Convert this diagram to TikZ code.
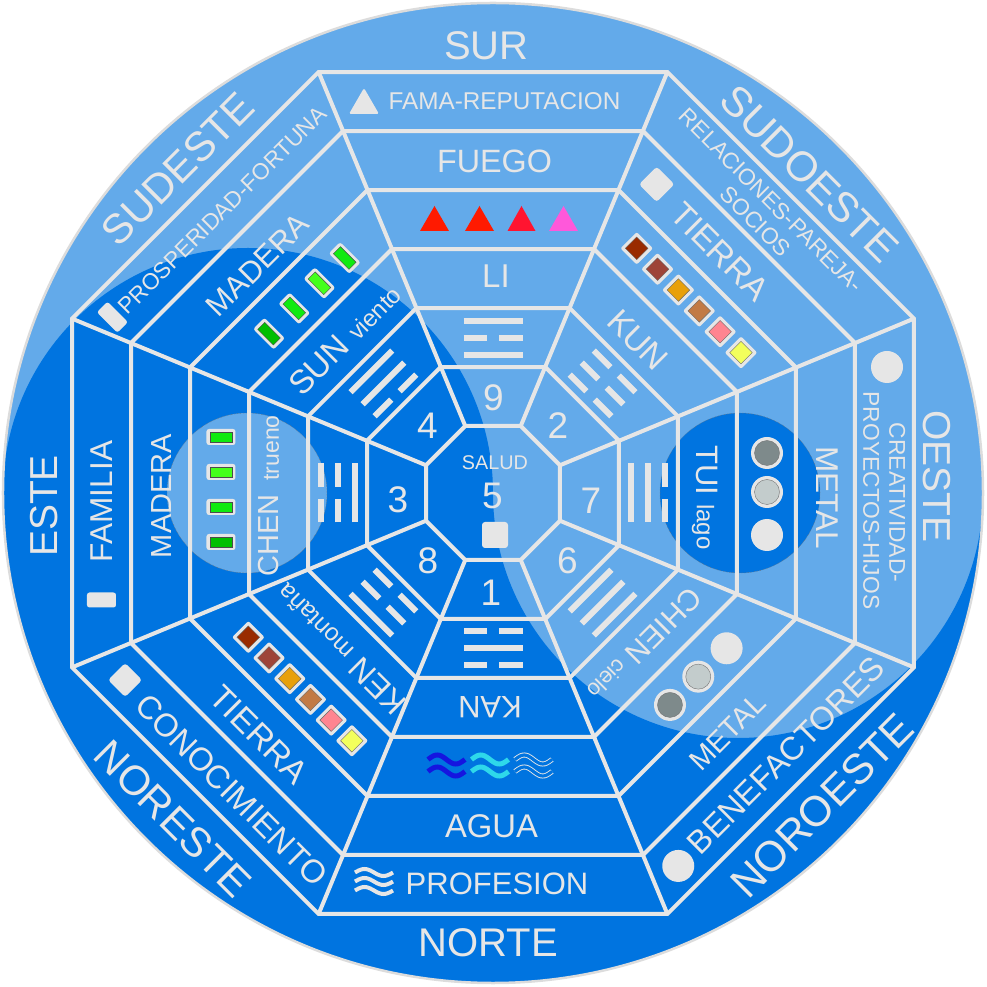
\documentclass[tikz,border=0pt]{standalone}
\usepackage{fontspec}
\setmainfont{Liberation Sans}
\definecolor{lb}{HTML}{63AAEA}
\definecolor{db}{HTML}{0074E0}
\definecolor{lg}{HTML}{E6E6E6}
\definecolor{rim}{HTML}{DCDCDC}
\definecolor{c1}{HTML}{992B00}
\definecolor{c2}{HTML}{9E4438}
\definecolor{c3}{HTML}{E8A00A}
\definecolor{c4}{HTML}{C27A44}
\definecolor{c5}{HTML}{FF8590}
\definecolor{c6}{HTML}{F3FF5C}
\definecolor{g1}{HTML}{00BF00}
\definecolor{g2}{HTML}{10EA10}
\definecolor{g3}{HTML}{44FF1A}
\definecolor{g4}{HTML}{10EA10}
\definecolor{m1}{HTML}{7E8A8B}
\definecolor{m2}{HTML}{C3CCCC}
\definecolor{r1}{HTML}{FF1A00}
\definecolor{r3}{HTML}{FF1430}
\definecolor{r4}{HTML}{FF58DA}
\definecolor{w1}{HTML}{1515E0}
\definecolor{w2}{HTML}{2ED8EA}
\newcommand{\tgl}[2]{\ifnum#1=1 \draw[trg] (-29.5,#2) -- (29.5,#2);\else\draw[trg] (-29.5,#2) -- (-6,#2) (6,#2) -- (29.5,#2);\fi}
\newcommand{\trig}[3]{\tgl{#1}{138}\tgl{#2}{155}\tgl{#3}{172}}
\newcommand{\esq}[3]{\node[ico, minimum size=23, rounded corners=2] at (#1,#2) {};\node[inner sep=0, fill=#3, draw=black!60, line width=0.4, minimum size=16] at (#1,#2) {};}
\newcommand{\mcirc}[3]{\node[ico, circle, minimum size=32] at (#1,#2) {};\node[circle, inner sep=0, fill=#3, draw=black!55, line width=0.4, minimum size=25] at (#1,#2) {};}
\newcommand{\grect}[3]{\node[ico, minimum width=16, minimum height=29, rounded corners=2.5] at (#1,#2) {};\node[inner sep=0, fill=#3, draw=black!70, line width=0.4, minimum width=10, minimum height=22] at (#1,#2) {};}
\newcommand{\wv}[4]{plot[smooth, domain=0:1, samples=21] ({#1+(\x-0.5)*#4},{#2+#3*sin(\x*360)})}
\begin{document}
\begin{tikzpicture}[x=1pt,y=1pt,
  gline/.style={draw=lg, line width=4},
  trg/.style={draw=lg, line width=6},
  tx/.style={text=lg, inner sep=0, outer sep=0, text depth=0pt, anchor=center},
  sz/.style={font=\fontsize{#1}{#1}\selectfont, text height={0.716*#1}},
  ico/.style={fill=lg, inner sep=0, outer sep=0, draw=none}]
\useasboundingbox (-493,-494) rectangle (494,493);
% yin-yang background
\fill[lb] (0,0) circle[radius=490];
\fill[db] (-490,0) arc[start angle=180,end angle=360,radius=490] arc[start angle=0,end angle=-180,radius=245] arc[start angle=0,end angle=180,radius=245] -- cycle;
\fill[lb] (-246,0) circle[radius=80];
\draw[black!55, line width=0.5, densely dotted] (-246,0) circle[radius=80];
\fill[db] (247,0) circle[radius=80];
\draw[black!55, line width=0.5, densely dotted] (247,0) circle[radius=80];
% ---------- centre
\node[tx, sz=19.8] (salud) at (2,31) {SALUD};
\node[tx, sz=37] (n5) at (-0.5,-2.5) {5};
\node[ico, minimum size=26, rounded corners=3] (sq5) at (2,-42) {};
% numbers
\node[tx, sz=37] (n9) at (0.5,95.5) {9};
\node[tx, sz=37] (n2) at (65,67.5) {2};
\node[tx, sz=37] (n7) at (98,-7) {7};
\node[tx, sz=37] (n6) at (74.5,-67) {6};
\node[tx, sz=37] (n1) at (-2,-99) {1};
\node[tx, sz=37] (n8) at (-65,-67) {8};
\node[tx, sz=37] (n3) at (-95,-6) {3};
\node[tx, sz=37] (n4) at (-65.5,67.5) {4};
% ---------- S
\node[tx, sz=40] (sur) at (-6.5,448) {SUR};
\node[tx, sz=24.3] (fama) at (11.5,392) {FAMA-REPUTACION};
\fill[lg, rounded corners=1.5] (-144,379) -- (-114,379) -- (-129,405) -- cycle;
\node[tx, sz=32.3] (fuego) at (1.5,332.5) {FUEGO};
\fill[r1] (-73,262) -- (-44,262) -- (-58.5,287) -- cycle;
\fill[r1] (-28,262) -- (1,262) -- (-13.5,287) -- cycle;
\fill[r3] (14.5,262) -- (42.5,262) -- (28.5,287) -- cycle;
\fill[r4] (56,262) -- (85,262) -- (70.5,287) -- cycle;
\node[tx, sz=33] (li) at (3,217) {LI};
\trig{1}{0}{1}
% ---------- SW
\begin{scope}[rotate=-45, transform shape]
\node[tx, sz=42] (sudoeste) at (-2,450) {SUDOESTE};
\node[tx, sz=22.8] (rel) at (-10,404) {RELACIONES-PAREJA-};
\node[tx, sz=22.8] (soc) at (-6,378) {SOCIOS};
\node[ico, minimum size=25, rounded corners=3] (sqsw) at (-102.5,334) {};
\node[tx, sz=33.5] (tierra1) at (-10,331) {TIERRA};
\esq{-71.4}{274.6}{c1}\esq{-41.9}{274.6}{c2}\esq{-12.4}{274.6}{c3}
\esq{17.1}{274.6}{c4}\esq{46.6}{274.6}{c5}\esq{76.1}{274.6}{c6}
\node[tx, sz=33] (kun) at (-5.7,211) {KUN};
\trig{0}{0}{0}
\end{scope}
% ---------- W
\begin{scope}[rotate=-90, transform shape]
\node[tx, sz=39] (oeste) at (-16.5,444) {OESTE};
\node[tx, sz=22.8] (crea) at (9.5,404.5) {CREATIVIDAD-};
\node[tx, sz=22.8] (proy) at (7.5,378.5) {PROYECTOS-HIJOS};
\node[ico, circle, minimum size=32] (ciw) at (-126,394) {};
\node[tx, sz=31.5] (metal1) at (4.5,334.5) {METAL};
\mcirc{-40}{274}{m1}\mcirc{-1}{274}{m2}
\node[ico, circle, minimum size=32] (mw3) at (42,274) {};
\node[tx, sz=31] (tui) at (4.5,215) {TUI {\fontsize{24}{24}\selectfont lago}};
\trig{1}{1}{0}
\end{scope}
% ---------- NW
\begin{scope}[rotate=45, transform shape]
\node[tx, sz=42.5] (noroeste) at (11.8,-453) {NOROESTE};
\node[ico, circle, minimum size=32] (cinw) at (-132.7,-394.7) {};
\node[tx, sz=32.5] (bene) at (21.7,-392) {BENEFACTORES};
\node[tx, sz=29] (metal2) at (-3.1,-334.4) {METAL};
\mcirc{-24.7}{-275}{m1}\mcirc{15.3}{-275}{m2}
\node[ico, circle, minimum size=32] (mnw3) at (55.4,-275) {};
\end{scope}
\begin{scope}[rotate=-135, transform shape]
\node[tx, sz=30] (chien) at (0,215) {CHIEN {\fontsize{22}{22}\selectfont cielo}};
\trig{1}{1}{1}
\end{scope}
% ---------- N
\node[tx, sz=40] (norte) at (-4.7,-448.7) {NORTE};
\node[tx, sz=31] (prof) at (4,-390) {PROFESION};
\draw[lg, line width=4] \wv{-119}{-379.5}{3.5}{38} \wv{-119}{-388.5}{3.5}{38} \wv{-119}{-397.5}{3.5}{38};
\node[tx, sz=32.8] (agua) at (-1.5,-332.5) {AGUA};
\draw[w1, line width=5] \wv{-46.5}{-266.5}{4.5}{37} \wv{-46.5}{-278.5}{4.5}{37};
\draw[w2, line width=5] \wv{-3}{-266.5}{4.5}{37} \wv{-3}{-278.5}{4.5}{37};
\draw[lg, line width=0.9, double=db, double distance=3.2] \wv{40.5}{-266.5}{4.5}{37} \wv{40.5}{-278.5}{4.5}{37};
\begin{scope}[rotate=180, transform shape]
\node[tx, sz=31] (kan) at (3,214.5) {KAN};
\trig{0}{1}{0}
\end{scope}
% ---------- NE
\begin{scope}[rotate=-45, transform shape]
\node[tx, sz=41.5] (noreste) at (4,-456) {NORESTE};
\node[ico, minimum size=24, rounded corners=3] (sqne) at (-127.9,-392.4) {};
\node[tx, sz=32.5] (cono) at (25.2,-394.7) {CONOCIMIENTO};
\node[tx, sz=33.5] (tierra2) at (5.4,-335.8) {TIERRA};
\esq{-71}{-275}{c1}\esq{-41.7}{-275}{c2}\esq{-12.4}{-275}{c3}
\esq{16.9}{-275}{c4}\esq{46.2}{-275}{c5}\esq{75.4}{-275}{c6}
\end{scope}
\begin{scope}[rotate=135, transform shape]
\node[tx, sz=32] (ken) at (-3,219) {KEN {\fontsize{24.5}{24.5}\selectfont montaña}};
\trig{0}{0}{1}
\end{scope}
% ---------- E
\begin{scope}[rotate=90, transform shape]
\node[tx, sz=39] (este) at (-13,449) {ESTE};
\node[tx, sz=31.6] (fam) at (-8.5,391.5) {FAMILIA};
\node[ico, minimum width=15, minimum height=29, rounded corners=2.5] (rce) at (-107,391.5) {};
\node[tx, sz=29] (madera1) at (-3,332) {MADERA};
\grect{-49}{272}{g1}\grect{-14}{272}{g2}\grect{21}{272}{g3}\grect{56}{272}{g4}
\node[tx, sz=29] (chen) at (-3,224.5) {CHEN\hspace{6pt} {\fontsize{23}{23}\selectfont trueno}};
\trig{1}{0}{0}
\end{scope}
% ---------- SE
\begin{scope}[rotate=45, transform shape]
\node[tx, sz=41.5] (sudeste) at (6.4,452.8) {SUDESTE};
\node[tx, sz=22.8] (prosp) at (8.7,391.5) {PROSPERIDAD-FORTUNA};
\node[ico, minimum width=15, minimum height=29, rounded corners=2.5] (rcse) at (-144.8,393.4) {};
\node[tx, sz=30.6] (madera2) at (-5.4,328) {MADERA};
\grect{-45.7}{271}{g1}\grect{-10}{271}{g2}\grect{25.6}{271}{g3}\grect{61.3}{271}{g4}
\node[tx, sz=33] (sun) at (4,214) {SUN {\fontsize{24}{24}\selectfont viento}};
\trig{0}{1}{1}
\end{scope}
% ---------- grid
\foreach \a in {67,126,185,244,303,362,421}{
  \draw[gline] (22.5:{\a*1.082392}) -- (67.5:{\a*1.082392}) -- (112.5:{\a*1.082392}) -- (157.5:{\a*1.082392}) -- (202.5:{\a*1.082392}) -- (247.5:{\a*1.082392}) -- (292.5:{\a*1.082392}) -- (337.5:{\a*1.082392}) -- cycle;}
\foreach \k in {0,...,7}{
  \draw[gline] ({22.5+45*\k}:{67*1.082392}) -- ({22.5+45*\k}:{421*1.082392});}
\draw[rim, line width=2.5] (0,0) circle[radius=490];
\end{tikzpicture}
\end{document}
